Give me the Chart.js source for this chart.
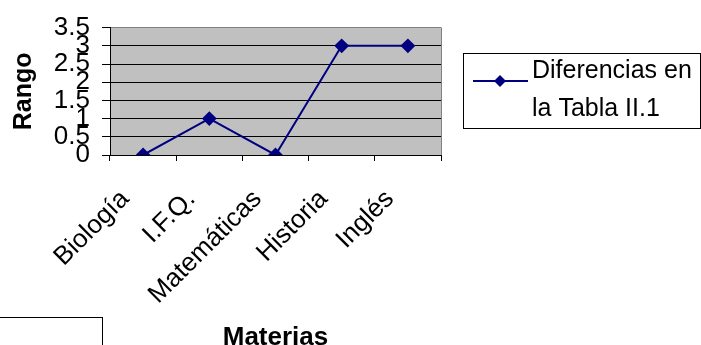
<!DOCTYPE html>
<html>
<head>
<meta charset="utf-8">
<script src="https://cdn.jsdelivr.net/npm/chart.js@4/dist/chart.umd.min.js"></script>
<style>
  html, body { margin: 0; padding: 0; background: #fff; }
  #wrap { width: 701px; height: 345px; position: relative; }
</style>
</head>
<body>
<div id="wrap"><canvas id="c" width="701" height="345"></canvas></div>
<script>
// Subjects and the rank difference for each one
const materias = ['Biología', 'I.F.Q.', 'Matemáticas', 'Historia', 'Inglés'];
const diferencias = [0, 1, 0, 3, 3];
const serieNombre = 'Diferencias en la Tabla II.1';
const serieLineas = ['Diferencias en', 'la Tabla II.1'];
const rangoTicks = [0, 0.5, 1, 1.5, 2, 2.5, 3, 3.5];

const FONT = '"Liberation Sans", Arial, sans-serif';
const NAVY = '#000080';

// Grey plot background and right-hand frame line
const fondoGris = {
  id: 'fondoGris',
  beforeDraw(chart) {
    const { ctx, chartArea: a } = chart;
    ctx.save();
    ctx.fillStyle = '#C0C0C0';
    ctx.fillRect(a.left, a.top, a.right - a.left, a.bottom - a.top);
    ctx.restore();
  },
  afterDatasetsDraw(chart) {
    const { ctx, chartArea: a } = chart;
    ctx.save();
    ctx.strokeStyle = '#808080';
    ctx.lineWidth = 1;
    ctx.beginPath();
    ctx.moveTo(Math.round(a.right) + 0.5, a.top);
    ctx.lineTo(Math.round(a.right) + 0.5, a.bottom);
    ctx.stroke();
    ctx.restore();
  }
};

// Framed legend with a two-line label, plus the empty frame at the lower left
const cajaLeyenda = {
  id: 'cajaLeyenda',
  afterDraw(chart) {
    const ctx = chart.ctx;
    const ds = chart.data.datasets[0];
    ctx.save();
    ctx.strokeStyle = '#000';
    ctx.lineWidth = 1;
    ctx.strokeRect(463.5, 53.5, 237, 75);
    ctx.strokeRect(-2.5, 317.5, 105, 40);

    const y = 81;
    ctx.strokeStyle = ds.borderColor;
    ctx.lineWidth = 2;
    ctx.beginPath();
    ctx.moveTo(473, y);
    ctx.lineTo(528, y);
    ctx.stroke();
    ctx.fillStyle = ds.pointBackgroundColor;
    const r = ds.pointRadius;
    ctx.beginPath();
    ctx.moveTo(500, y - r);
    ctx.lineTo(500 + r, y);
    ctx.lineTo(500, y + r);
    ctx.lineTo(500 - r, y);
    ctx.closePath();
    ctx.fill();

    ctx.fillStyle = '#000';
    ctx.font = '25px ' + FONT;
    ctx.textAlign = 'left';
    ctx.textBaseline = 'alphabetic';
    ctx.fillText(serieLineas[0], 532, 78);
    ctx.fillText(serieLineas[1], 532, 116);
    ctx.restore();
  }
};

new Chart(document.getElementById('c'), {
  type: 'line',
  data: {
    labels: materias,
    datasets: [{
      label: serieNombre,
      data: diferencias,
      borderColor: NAVY,
      backgroundColor: NAVY,
      pointBackgroundColor: NAVY,
      pointBorderColor: NAVY,
      pointStyle: 'rectRot',
      pointRadius: 6,
      pointHoverRadius: 6,
      borderWidth: 2,
      tension: 0,
      fill: false
    }]
  },
  options: {
    responsive: false,
    animation: false,
    devicePixelRatio: 1,
    layout: { padding: { top: 25, right: 260, left: 0, bottom: 0 } },
    plugins: {
      legend: { display: false },
      tooltip: { enabled: false }
    },
    scales: {
      x: {
        type: 'category',
        offset: true,
        grid: {
          display: true,
          drawOnChartArea: false,
          offset: true,
          tickLength: 6,
          tickColor: '#000',
          color: '#000'
        },
        border: { color: '#000', width: 1 },
        ticks: {
          autoSkip: false,
          maxRotation: 45,
          minRotation: 45,
          padding: 23,
          labelOffset: -18,
          color: '#000',
          font: { family: FONT, size: 26 }
        },
        title: {
          display: true,
          text: 'Materias',
          color: '#000',
          font: { family: FONT, size: 26, weight: 'bold' },
          padding: { top: 0, bottom: -8 }
        },
        afterFit(scale) { scale.height = 190; }
      },
      y: {
        min: 0,
        max: 3.5,
        afterBuildTicks(scale) {
          scale.ticks = rangoTicks.map(v => ({ value: v }));
        },
        grid: {
          color: (c) => (c.tick && c.tick.value === 3.5) ? '#808080' : '#000',
          tickColor: '#000',
          tickLength: 8,
          lineWidth: 1
        },
        border: { color: '#000', width: 1 },
        ticks: {
          autoSkip: false,
          padding: 12,
          color: '#000',
          font: { family: FONT, size: 26 },
          callback: (v) => String(v)
        },
        title: {
          display: true,
          text: 'Rango',
          color: '#000',
          font: { family: FONT, size: 25, weight: 'bold' },
          padding: { top: 9, bottom: 0 }
        },
        afterFit(scale) { scale.width = 110; }
      }
    }
  },
  plugins: [fondoGris, cajaLeyenda]
});
</script>
</body>
</html>
